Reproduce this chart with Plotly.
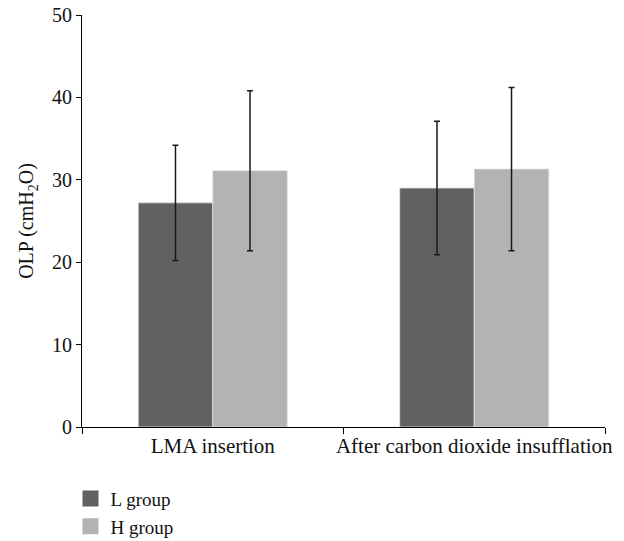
import plotly.graph_objects as go

categories = ["LMA insertion", "After carbon dioxide insufflation"]
l_mean = [27.2, 29.0]
l_sd = [7.0, 8.1]
h_mean = [31.1, 31.3]
h_sd = [9.7, 9.9]
y_ticks = [0, 10, 20, 30, 40, 50]
groups = ["L group", "H group"]
colors = ["#616161", "#b3b3b3"]

FONT = "Liberation Serif"
err_style = dict(type="data", visible=True, color="#1a1a1a", thickness=1.5, width=3)

fig = go.Figure()
for name, mean, sd, col in zip(groups, [l_mean, h_mean], [l_sd, h_sd], colors):
    fig.add_trace(go.Bar(
        name=name, x=categories, y=mean, showlegend=False,
        error_y=dict(array=sd, **err_style),
        marker=dict(color=col, line=dict(color="#e0e0e0", width=0.8)),
    ))
# legend swatches
for name, col in zip(groups, colors):
    fig.add_trace(go.Scatter(
        name=name, x=[None], y=[None], mode="markers",
        marker=dict(symbol="square", size=16, color=col, line=dict(width=0)),
        showlegend=True,
    ))

fig.update_layout(
    width=624, height=541,
    margin=dict(l=82, r=19, t=15, b=114, autoexpand=False),
    paper_bgcolor="white", plot_bgcolor="white",
    barmode="group", bargap=0.43, bargroupgap=0,
    font=dict(family=FONT, size=20, color="#111111"),
    showlegend=True,
    legend=dict(x=-0.022, y=-0.128, xanchor="left", yanchor="top",
                orientation="v", itemwidth=30, tracegroupgap=0,
                itemsizing="trace",
                font=dict(family=FONT, size=19), bgcolor="rgba(0,0,0,0)"),
)
fig.update_xaxes(
    showline=True, linecolor="black", linewidth=1.2,
    ticks="outside", tickson="boundaries", ticklen=6, tickcolor="black",
    showgrid=False, tickfont=dict(family=FONT, size=21), automargin=False,
    tickangle=0, ticklabeloverflow="allow",
)
fig.update_yaxes(
    range=[0, 50], tickvals=y_ticks, ticktext=[str(v) for v in y_ticks],
    showline=True, linecolor="black", linewidth=1.2,
    ticks="outside", ticklen=5, tickcolor="black",
    showgrid=False, zeroline=False, automargin=False,
    ticklabeloverflow="allow",
    title=dict(text="OLP (cmH<sub>2</sub>O)", font=dict(family=FONT, size=20), standoff=12),
    tickfont=dict(family=FONT, size=20),
)

fig.write_html("out.html", config={"displayModeBar": False},
               post_script="document.body.style.margin='0';")
